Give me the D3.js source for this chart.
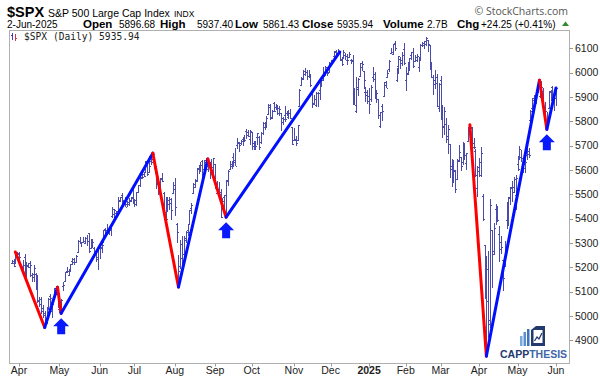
<!DOCTYPE html>
<html>
<head>
<meta charset="utf-8">
<script src="https://cdn.jsdelivr.net/npm/d3@7"></script>
<style>
  body { margin: 0; background: #fff; }
  svg { display: block; }
  text { font-family: "Liberation Sans", Arial, sans-serif; }
</style>
</head>
<body>
<svg id="chart" width="600" height="381"></svg>
<script>
// daily bars: date, open, high, low, close
var spx = [
["2024-03-25",5219,5229,5216,5218],["2024-03-26",5228,5236,5203,5204],["2024-03-27",5226,5249,5213,5248],["2024-03-28",5248,5264,5246,5254],
["2024-04-01",5258,5264,5229,5243],["2024-04-02",5204,5208,5185,5205],["2024-04-03",5194,5229,5194,5211],["2024-04-04",5244,5256,5146,5147],["2024-04-05",5158,5222,5157,5204],
["2024-04-08",5211,5219,5197,5202],["2024-04-09",5217,5224,5160,5209],["2024-04-10",5167,5178,5138,5161],["2024-04-11",5172,5211,5138,5199],["2024-04-12",5171,5175,5107,5123],
["2024-04-15",5150,5168,5052,5062],["2024-04-16",5064,5079,5039,5051],["2024-04-17",5068,5077,5007,5022],["2024-04-18",5031,5046,4991,5011],["2024-04-19",5005,5019,4953,4967],
["2024-04-22",4988,5038,4969,5011],["2024-04-23",5028,5076,5028,5070],["2024-04-24",5084,5089,5047,5072],["2024-04-25",5019,5057,4990,5048],["2024-04-26",5084,5114,5073,5100],
["2024-04-29",5114,5123,5088,5116],["2024-04-30",5103,5110,5035,5036],["2024-05-01",5030,5096,5014,5018],["2024-05-02",5050,5070,5011,5064],["2024-05-03",5122,5139,5102,5128],
["2024-05-06",5142,5181,5142,5181],["2024-05-07",5187,5200,5178,5187],["2024-05-08",5169,5192,5165,5188],["2024-05-09",5189,5215,5181,5214],["2024-05-10",5226,5239,5209,5223],
["2024-05-13",5233,5237,5211,5221],["2024-05-14",5221,5250,5220,5247],["2024-05-15",5263,5311,5257,5308],["2024-05-16",5310,5325,5297,5297],["2024-05-17",5303,5306,5283,5303],
["2024-05-20",5305,5325,5299,5308],["2024-05-21",5298,5324,5297,5321],["2024-05-22",5320,5333,5286,5307],["2024-05-23",5340,5342,5257,5268],["2024-05-24",5281,5311,5278,5305],
["2024-05-28",5315,5316,5280,5306],["2024-05-29",5278,5282,5259,5267],["2024-05-30",5259,5265,5222,5235],["2024-05-31",5244,5280,5191,5278],
["2024-06-03",5297,5302,5234,5283],["2024-06-04",5278,5298,5257,5292],["2024-06-05",5314,5354,5300,5354],["2024-06-06",5357,5362,5335,5352],["2024-06-07",5343,5376,5331,5347],
["2024-06-10",5341,5363,5331,5361],["2024-06-11",5354,5376,5327,5375],["2024-06-12",5410,5448,5402,5421],["2024-06-13",5441,5441,5403,5434],["2024-06-14",5424,5432,5404,5431],
["2024-06-17",5431,5488,5420,5473],["2024-06-18",5477,5490,5468,5487],["2024-06-20",5499,5506,5455,5473],["2024-06-21",5466,5478,5452,5465],
["2024-06-24",5459,5490,5447,5448],["2024-06-25",5461,5472,5446,5469],["2024-06-26",5460,5483,5451,5478],["2024-06-27",5474,5490,5471,5483],["2024-06-28",5488,5523,5460,5460],
["2024-07-01",5471,5480,5447,5475],["2024-07-02",5462,5510,5453,5509],["2024-07-03",5508,5539,5507,5537],["2024-07-05",5537,5570,5529,5567],
["2024-07-08",5572,5583,5562,5572],["2024-07-09",5584,5591,5570,5577],["2024-07-10",5591,5635,5587,5633],["2024-07-11",5635,5642,5576,5585],["2024-07-12",5590,5656,5586,5615],
["2024-07-15",5638,5670,5619,5631],["2024-07-16",5644,5669,5632,5667],["2024-07-17",5610,5623,5583,5588],["2024-07-18",5608,5615,5522,5545],["2024-07-19",5543,5557,5497,5505],
["2024-07-22",5544,5567,5526,5564],["2024-07-23",5566,5586,5551,5556],["2024-07-24",5505,5508,5426,5427],["2024-07-25",5429,5491,5390,5399],["2024-07-26",5433,5488,5430,5459],
["2024-07-29",5477,5488,5434,5464],["2024-07-30",5479,5486,5396,5436],["2024-07-31",5505,5551,5501,5522],["2024-08-01",5537,5566,5410,5446],["2024-08-02",5377,5383,5302,5347],
["2024-08-05",5151,5250,5119,5186],["2024-08-06",5206,5312,5193,5240],["2024-08-07",5294,5330,5195,5199],["2024-08-08",5253,5328,5248,5319],["2024-08-09",5313,5351,5300,5344],
["2024-08-12",5352,5372,5330,5344],["2024-08-13",5376,5436,5376,5434],["2024-08-14",5442,5463,5419,5455],["2024-08-15",5505,5545,5504,5543],["2024-08-16",5530,5563,5525,5554],
["2024-08-19",5557,5609,5551,5608],["2024-08-20",5603,5620,5584,5597],["2024-08-21",5603,5633,5591,5621],["2024-08-22",5637,5643,5560,5571],["2024-08-23",5603,5641,5585,5634],
["2024-08-26",5639,5651,5602,5617],["2024-08-27",5602,5631,5593,5626],["2024-08-28",5629,5633,5561,5592],["2024-08-29",5608,5646,5583,5592],["2024-08-30",5612,5651,5582,5648],
["2024-09-03",5623,5623,5521,5529],["2024-09-04",5506,5553,5504,5520],["2024-09-05",5521,5552,5486,5503],["2024-09-06",5508,5523,5402,5408],
["2024-09-09",5442,5484,5434,5471],["2024-09-10",5490,5497,5441,5496],["2024-09-11",5496,5560,5406,5554],["2024-09-12",5557,5600,5535,5596],["2024-09-13",5605,5636,5604,5626],
["2024-09-16",5615,5636,5604,5633],["2024-09-17",5655,5671,5614,5634],["2024-09-18",5641,5690,5615,5618],["2024-09-19",5703,5733,5686,5714],["2024-09-20",5709,5715,5674,5703],
["2024-09-23",5711,5725,5704,5719],["2024-09-24",5727,5735,5698,5732],["2024-09-25",5733,5742,5716,5722],["2024-09-26",5762,5767,5729,5745],["2024-09-27",5756,5765,5734,5738],
["2024-09-30",5726,5765,5703,5762],["2024-10-01",5757,5757,5681,5709],["2024-10-02",5698,5720,5683,5709],["2024-10-03",5701,5718,5680,5700],["2024-10-04",5737,5752,5704,5751],
["2024-10-07",5737,5739,5683,5696],["2024-10-08",5715,5755,5705,5751],["2024-10-09",5751,5796,5745,5792],["2024-10-10",5778,5796,5763,5780],["2024-10-11",5775,5822,5773,5815],
["2024-10-14",5829,5871,5829,5860],["2024-10-15",5866,5870,5804,5815],["2024-10-16",5816,5846,5809,5843],["2024-10-17",5875,5879,5840,5841],["2024-10-18",5859,5872,5846,5865],
["2024-10-21",5857,5866,5824,5853],["2024-10-22",5832,5863,5822,5851],["2024-10-23",5834,5835,5762,5797],["2024-10-24",5813,5817,5784,5809],["2024-10-25",5827,5862,5799,5808],
["2024-10-28",5833,5842,5822,5823],["2024-10-29",5819,5847,5810,5833],["2024-10-30",5832,5850,5811,5813],["2024-10-31",5775,5775,5703,5705],["2024-11-01",5724,5772,5723,5729],
["2024-11-04",5725,5741,5697,5712],["2024-11-05",5722,5783,5722,5783],["2024-11-06",5864,5932,5864,5929],["2024-11-07",5947,5983,5946,5973],["2024-11-08",5976,6012,5971,5996],
["2024-11-11",6008,6018,5984,6001],["2024-11-12",6003,6009,5970,5984],["2024-11-13",5986,6009,5976,5985],["2024-11-14",5990,5993,5942,5949],["2024-11-15",5912,5916,5853,5871],
["2024-11-18",5875,5909,5866,5893],["2024-11-19",5865,5920,5859,5917],["2024-11-20",5917,5920,5860,5917],["2024-11-21",5928,5963,5886,5949],["2024-11-22",5944,5973,5942,5969],
["2024-11-25",5992,6021,5964,5987],["2024-11-26",5992,6026,5986,6021],["2024-11-27",6015,6021,5985,5999],["2024-11-29",6004,6044,6004,6032],
["2024-12-02",6040,6053,6034,6047],["2024-12-03",6042,6053,6036,6050],["2024-12-04",6069,6087,6061,6086],["2024-12-05",6090,6092,6070,6075],["2024-12-06",6081,6099,6079,6090],
["2024-12-09",6083,6089,6048,6053],["2024-12-10",6057,6065,6027,6034],["2024-12-11",6060,6092,6059,6085],["2024-12-12",6074,6079,6051,6052],["2024-12-13",6068,6078,6033,6051],
["2024-12-16",6063,6085,6059,6075],["2024-12-17",6052,6057,6035,6051],["2024-12-18",6048,6071,5867,5872],["2024-12-19",5913,5935,5866,5867],["2024-12-20",5843,5982,5832,5931],
["2024-12-23",5941,5978,5903,5975],["2024-12-24",5985,6040,5982,6040],["2024-12-26",6025,6049,6007,6037],["2024-12-27",6006,6006,5932,5971],
["2024-12-30",5921,5941,5880,5907],["2024-12-31",5920,5929,5869,5882],["2025-01-02",5903,5935,5829,5869],["2025-01-03",5892,5950,5878,5942],
["2025-01-06",5983,6021,5961,5975],["2025-01-07",5993,6001,5890,5909],["2025-01-08",5911,5928,5874,5918],["2025-01-10",5890,5890,5809,5827],
["2025-01-13",5782,5838,5773,5837],["2025-01-14",5863,5872,5803,5843],["2025-01-15",5905,5961,5903,5950],["2025-01-16",5961,5964,5935,5937],["2025-01-17",5980,6011,5978,5997],
["2025-01-21",6015,6052,6003,6049],["2025-01-22",6081,6101,6075,6086],["2025-01-23",6076,6119,6074,6119],["2025-01-24",6121,6128,6089,6101],
["2025-01-27",5969,6017,5962,6012],["2025-01-28",6026,6069,5995,6068],["2025-01-29",6057,6063,6013,6039],["2025-01-30",6053,6086,6027,6071],["2025-01-31",6096,6121,6030,6041],
["2025-02-03",5969,6022,5923,5994],["2025-02-04",5998,6042,5991,6037],["2025-02-05",6021,6062,6007,6061],["2025-02-06",6073,6084,6050,6084],["2025-02-07",6083,6101,6020,6026],
["2025-02-10",6048,6073,6048,6066],["2025-02-11",6050,6076,6042,6068],["2025-02-12",6025,6063,6003,6052],["2025-02-13",6060,6116,6051,6115],["2025-02-14",6115,6127,6107,6115],
["2025-02-18",6121,6129,6099,6129],["2025-02-19",6117,6147,6111,6144],["2025-02-20",6134,6134,6084,6117],["2025-02-21",6114,6115,6009,6013],
["2025-02-24",6027,6044,5977,5983],["2025-02-25",5983,5992,5908,5955],["2025-02-26",5970,6009,5932,5956],["2025-02-27",5981,5994,5858,5862],["2025-02-28",5856,5959,5837,5955],
["2025-03-03",5969,5986,5810,5850],["2025-03-04",5811,5866,5733,5778],["2025-03-05",5782,5860,5743,5843],["2025-03-06",5787,5812,5711,5739],["2025-03-07",5726,5783,5667,5770],
["2025-03-10",5705,5705,5565,5615],["2025-03-11",5604,5645,5529,5573],["2025-03-12",5624,5642,5547,5599],["2025-03-13",5595,5598,5505,5522],["2025-03-14",5564,5645,5563,5639],
["2025-03-17",5635,5703,5631,5675],["2025-03-18",5654,5654,5597,5615],["2025-03-19",5632,5715,5622,5675],["2025-03-20",5646,5711,5640,5663],["2025-03-21",5630,5670,5600,5668],
["2025-03-24",5719,5775,5719,5768],["2025-03-25",5771,5786,5764,5777],["2025-03-26",5772,5777,5700,5712],["2025-03-27",5696,5732,5685,5693],["2025-03-28",5679,5685,5572,5581],
["2025-03-31",5527,5618,5489,5612],["2025-04-01",5597,5651,5571,5633],["2025-04-02",5581,5695,5572,5671],["2025-04-03",5492,5500,5391,5397],["2025-04-04",5292,5292,5069,5074],
["2025-04-07",4953,5247,4835,5062],["2025-04-08",5194,5268,4910,4983],["2025-04-09",4966,5482,4950,5457],["2025-04-10",5353,5353,5116,5268],["2025-04-11",5256,5381,5250,5363],
["2025-04-14",5441,5460,5373,5406],["2025-04-15",5411,5450,5387,5396],["2025-04-16",5335,5368,5220,5276],["2025-04-17",5305,5329,5255,5283],
["2025-04-21",5232,5232,5102,5158],["2025-04-22",5207,5309,5207,5288],["2025-04-23",5395,5469,5356,5376],["2025-04-24",5381,5489,5371,5485],["2025-04-25",5489,5528,5456,5525],
["2025-04-28",5529,5553,5468,5529],["2025-04-29",5508,5572,5505,5561],["2025-04-30",5499,5581,5434,5569],["2025-05-01",5626,5658,5597,5604],["2025-05-02",5646,5700,5645,5687],
["2025-05-05",5655,5684,5634,5650],["2025-05-06",5605,5648,5587,5607],["2025-05-07",5626,5667,5587,5631],["2025-05-08",5663,5721,5640,5664],["2025-05-09",5679,5691,5650,5660],
["2025-05-12",5807,5845,5776,5844],["2025-05-13",5853,5894,5847,5886],["2025-05-14",5896,5906,5868,5892],["2025-05-15",5883,5925,5869,5917],["2025-05-16",5929,5958,5915,5958],
["2025-05-19",5903,5969,5895,5964],["2025-05-20",5955,5960,5924,5940],["2025-05-21",5926,5938,5841,5845],["2025-05-22",5841,5878,5829,5842],["2025-05-23",5781,5837,5767,5803],
["2025-05-27",5855,5924,5854,5922],["2025-05-28",5925,5930,5884,5889],["2025-05-29",5939,5943,5874,5912],["2025-05-30",5903,5922,5843,5911],
["2025-06-02",5897,5937,5861,5936]
];

// zigzag pivots (date, price)
var pivots = [
  ["2024-03-27", 5263], ["2024-04-19", 4953], ["2024-04-30", 5118], ["2024-05-02", 5011],
  ["2024-07-16", 5669], ["2024-08-05", 5119], ["2024-08-27", 5645], ["2024-09-11", 5406],
  ["2024-12-09", 6085]
];
var pivots2 = [
  ["2025-03-25", 5786], ["2025-04-07", 4835], ["2025-05-19", 5969], ["2025-05-23", 5767],
  ["2025-06-02", 5937]
];
// blue "buy" arrows under lows
var arrows = [["2024-05-02", 5011], ["2024-09-11", 5406], ["2025-05-23", 5767]];

var yTicks = [4900, 5000, 5100, 5200, 5300, 5400, 5500, 5600, 5700, 5800, 5900, 6000, 6100];
var monthTicks = [
  ["2024-04-01","Apr"],["2024-05-01","May"],["2024-06-03","Jun"],["2024-07-01","Jul"],
  ["2024-08-01","Aug"],["2024-09-03","Sep"],["2024-10-01","Oct"],["2024-11-01","Nov"],
  ["2024-12-02","Dec"],["2025-01-02","2025"],["2025-02-03","Feb"],["2025-03-03","Mar"],
  ["2025-04-01","Apr"],["2025-05-01","May"],["2025-06-02","Jun"]
];

var svg = d3.select("#chart");
var plot = {left: 9, right: 569, top: 30, bottom: 363};

var x = d3.scalePoint()
    .domain(spx.map(function(d){ return d[0]; }))
    .range([11.7, 556]);
var y = d3.scaleLinear()
    .domain([4807, 6175])
    .range([plot.bottom, plot.top]);

// ============ header
var hdr = svg.append("g");
hdr.append("text").attr("x", 7).attr("y", 17).style("font-size", "14.5px").style("font-weight", "bold").text("$SPX");
hdr.append("text").attr("x", 48).attr("y", 17).style("font-size", "10.5px").text("S&P 500 Large Cap Index");
hdr.append("text").attr("x", 174).attr("y", 17).style("font-size", "8.5px").text("INDX");
hdr.append("text").attr("x", 568).attr("y", 15).attr("text-anchor", "end")
   .style("font-family", "'Open Sans', sans-serif").style("font-size", "10.5px").style("fill", "#555")
   .text("\u00A9 StockCharts.com");

var line2 = [
  [7, "2-Jun-2025", false], [83, "Open", true], [119, "5896.68", false], [160, "High", true],
  [197, "5937.40", false], [235, "Low", true], [263, "5861.43", false], [302, "Close", true],
  [337, "5935.94", false], [383, "Volume", true], [427, "2.7B", false], [457, "Chg", true],
  [481, "+24.25 (+0.41%)", false]
];
hdr.selectAll(".l2").data(line2).enter().append("text")
   .attr("x", function(d){ return d[0]; }).attr("y", 27.5)
   .style("font-size", function(d){ return d[2] ? "11.5px" : "10px"; })
   .style("font-weight", function(d){ return d[2] ? "bold" : "normal"; })
   .text(function(d){ return d[1]; });
hdr.append("path").attr("d", "M562,26 L569,26 L565.5,21.5 Z").attr("fill", "#2e8b2e");

// ============ frame
svg.append("rect")
   .attr("x", plot.left + 0.5).attr("y", plot.top + 0.5)
   .attr("width", plot.right - plot.left).attr("height", plot.bottom - plot.top)
   .attr("fill", "none").attr("stroke", "#b0b0b0");

// legend line
var leg = svg.append("g");
leg.append("line").attr("x1", 12.5).attr("x2", 12.5).attr("y1", 33).attr("y2", 40).attr("stroke", "#3b3bd0");
leg.append("line").attr("x1", 15.5).attr("x2", 15.5).attr("y1", 34).attr("y2", 41).attr("stroke", "#d03b3b");
leg.append("line").attr("x1", 11).attr("x2", 12.5).attr("y1", 35.5).attr("y2", 35.5).attr("stroke", "#3b3bd0");
leg.append("line").attr("x1", 15.5).attr("x2", 17).attr("y1", 38.5).attr("y2", 38.5).attr("stroke", "#d03b3b");
leg.append("text").attr("x", 24).attr("y", 40)
   .style("font-family", "'DejaVu Sans Mono', monospace").style("font-size", "9.6px").style("fill", "#222")
   .text("$SPX (Daily) 5935.94");

// ============ y axis (right)
var yAxis = svg.append("g").attr("class", "y-axis");
yAxis.selectAll("line").data(yTicks).enter().append("line")
   .attr("x1", plot.right + 0.5).attr("x2", plot.right + 4)
   .attr("y1", function(d){ return Math.round(y(d)) + 0.5; })
   .attr("y2", function(d){ return Math.round(y(d)) + 0.5; })
   .attr("stroke", "#999");
yAxis.selectAll("text").data(yTicks).enter().append("text")
   .attr("x", 575).attr("y", function(d){ return y(d); }).attr("dy", "0.36em")
   .style("font-size", "10.5px").style("fill", "#222")
   .text(function(d){ return d; });

// ============ x axis (months)
var xAxis = svg.append("g").attr("class", "x-axis");
xAxis.selectAll("line").data(monthTicks).enter().append("line")
   .attr("x1", function(d){ return Math.round(x(d[0])) + 0.5; })
   .attr("x2", function(d){ return Math.round(x(d[0])) + 0.5; })
   .attr("y1", plot.bottom + 0.5).attr("y2", plot.bottom + 3.5)
   .attr("stroke", "#999");
xAxis.selectAll("text").data(monthTicks).enter().append("text")
   .attr("x", function(d){ return x(d[0]); }).attr("y", 374)
   .attr("text-anchor", "middle")
   .style("font-size", "10.5px").style("fill", "#222")
   .style("font-weight", function(d){ return d[1] === "2025" ? "bold" : "normal"; })
   .text(function(d){ return d[1]; });

// ============ OHLC bars
svg.append("clipPath").attr("id", "clip").append("rect")
   .attr("x", plot.left + 1).attr("y", plot.top + 1)
   .attr("width", plot.right - plot.left - 1).attr("height", plot.bottom - plot.top - 1);
var bars = svg.append("g").attr("clip-path", "url(#clip)")
   .attr("stroke", "#4b4bab").attr("stroke-width", 1).attr("shape-rendering", "crispEdges");
var bar = bars.selectAll("g").data(spx).enter().append("g");
bar.append("line")
   .attr("x1", function(d){ return Math.round(x(d[0])) + 0.5; })
   .attr("x2", function(d){ return Math.round(x(d[0])) + 0.5; })
   .attr("y1", function(d){ return y(d[2]); })
   .attr("y2", function(d){ return y(d[3]); });
bar.append("line")
   .attr("x1", function(d){ return Math.round(x(d[0])) - 1; })
   .attr("x2", function(d){ return Math.round(x(d[0])) + 0.5; })
   .attr("y1", function(d){ return Math.round(y(d[1])) + 0.5; })
   .attr("y2", function(d){ return Math.round(y(d[1])) + 0.5; });
bar.append("line")
   .attr("x1", function(d){ return Math.round(x(d[0])) + 0.5; })
   .attr("x2", function(d){ return Math.round(x(d[0])) + 2; })
   .attr("y1", function(d){ return Math.round(y(d[4])) + 0.5; })
   .attr("y2", function(d){ return Math.round(y(d[4])) + 0.5; });

// ============ zigzag lines
function drawZig(pts){
  for (var i = 1; i < pts.length; i++) {
    var a = pts[i-1], b = pts[i];
    svg.append("line")
      .attr("x1", x(a[0])).attr("y1", y(a[1]))
      .attr("x2", x(b[0])).attr("y2", y(b[1]))
      .attr("stroke", b[1] < a[1] ? "#ff0000" : "#0010ff")
      .attr("stroke-width", 3)
      .attr("stroke-linecap", "round");
  }
}
drawZig(pivots);
drawZig(pivots2);

// ============ arrows
svg.selectAll(".arrow").data(arrows).enter().append("path")
   .attr("class", "arrow")
   .attr("fill", "#0a1aff")
   .attr("d", function(d){
      var cx = x(d[0]), t = y(d[1]) + 5;
      return "M" + cx + "," + t + " L" + (cx + 8) + "," + (t + 8) + " L" + (cx + 4) + "," + (t + 8) +
             " L" + (cx + 4) + "," + (t + 16) + " L" + (cx - 4) + "," + (t + 16) + " L" + (cx - 4) + "," + (t + 8) +
             " L" + (cx - 8) + "," + (t + 8) + " Z";
   });

// ============ CAPPTHESIS logo
var logo = svg.append("g");
logo.append("rect").attr("x", 520).attr("y", 336).attr("width", 2.5).attr("height", 10).attr("fill", "#7aa7dc");
logo.append("rect").attr("x", 523.5).attr("y", 332).attr("width", 2.5).attr("height", 14).attr("fill", "#5b8fd0");
logo.append("rect").attr("x", 527).attr("y", 329).attr("width", 2.5).attr("height", 17).attr("fill", "#3f74bd");
logo.append("path").attr("d", "M531,330 L536,326 L545,326 L545,346 L531,346 Z").attr("fill", "#233a6e");
logo.append("rect").attr("x", 533.5).attr("y", 330).attr("width", 9).attr("height", 13).attr("fill", "#fff");
logo.append("path").attr("d", "M534.5,341 L537,337 L539,339 L542,333").attr("fill", "none").attr("stroke", "#233a6e").attr("stroke-width", 1.3);
var lt = logo.append("text").attr("x", 500).attr("y", 358).style("font-size", "10.5px").style("font-weight", "bold");
lt.append("tspan").style("fill", "#233a6e").text("CAPP");
lt.append("tspan").style("fill", "#3f66a8").text("THESIS");
</script>
</body>
</html>
